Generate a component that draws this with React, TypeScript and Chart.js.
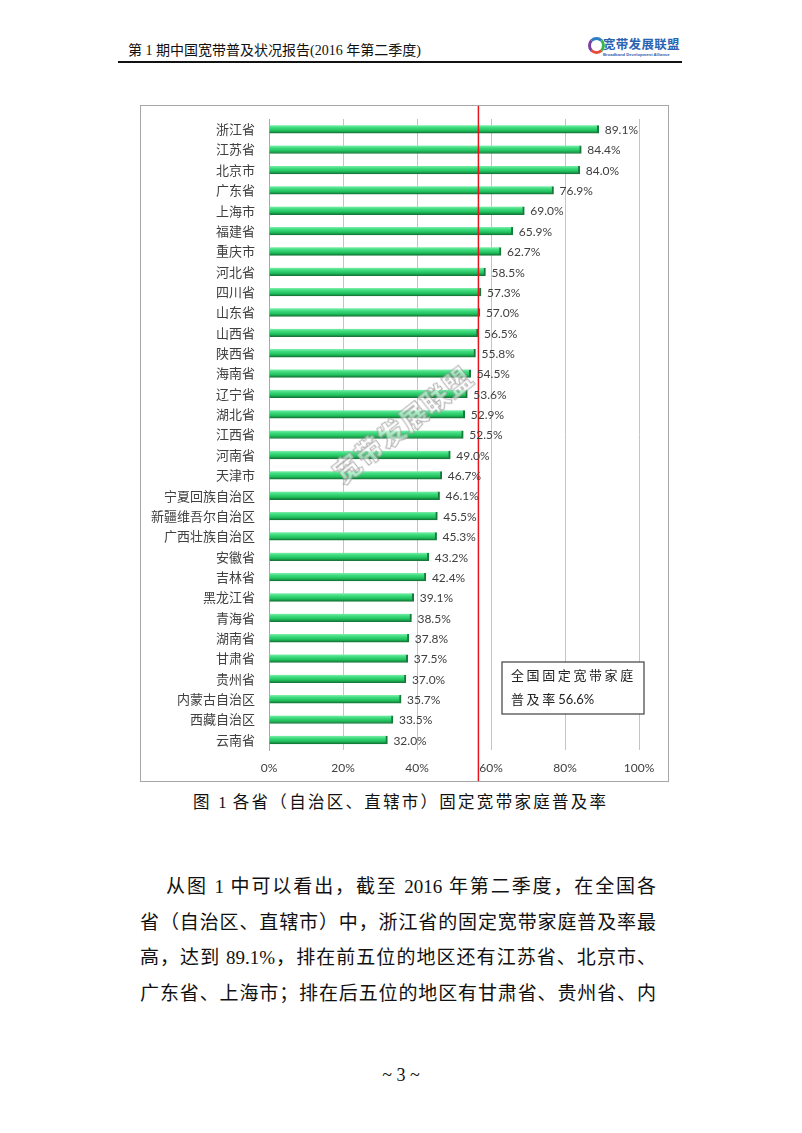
import React, { useEffect, useRef } from "react";
import { Chart, registerables } from "chart.js";

Chart.register(...registerables);

const provinces: string[] = [
  "浙江省", "江苏省", "北京市", "广东省", "上海市", "福建省", "重庆市", "河北省",
  "四川省", "山东省", "山西省", "陕西省", "海南省", "辽宁省", "湖北省", "江西省",
  "河南省", "天津市", "宁夏回族自治区", "新疆维吾尔自治区", "广西壮族自治区", "安徽省",
  "吉林省", "黑龙江省", "青海省", "湖南省", "甘肃省", "贵州省", "内蒙古自治区",
  "西藏自治区", "云南省",
];
const penetration: number[] = [
  89.1, 84.4, 84.0, 76.9, 69.0, 65.9, 62.7, 58.5, 57.3, 57.0, 56.5, 55.8, 54.5, 53.6,
  52.9, 52.5, 49.0, 46.7, 46.1, 45.5, 45.3, 43.2, 42.4, 39.1, 38.5, 37.8, 37.5, 37.0,
  35.7, 33.5, 32.0,
];
const nationalRate = 56.6;
const xTicks: number[] = [0, 20, 40, 60, 80, 100];
const boxLine1 = "全国固定宽带家庭";
const boxLine2a = "普及率";
const boxLine2b = " 56.6%";

const headerText = "第 1 期中国宽带普及状况报告(2016 年第二季度)";
const captionText = "图 1 各省（自治区、直辖市）固定宽带家庭普及率";
const bodyLines: string[] = [
  "从图 1 中可以看出，截至 2016 年第二季度，在全国各",
  "省（自治区、直辖市）中，浙江省的固定宽带家庭普及率最",
  "高，达到 89.1%，排在前五位的地区还有江苏省、北京市、",
  "广东省、上海市；排在后五位的地区有甘肃省、贵州省、内",
];

const NUM_FONT = "Lato, 'Noto Sans CJK SC', sans-serif";
const CJK_FONT = "'Noto Sans CJK SC', sans-serif";
const SERIF = "'Liberation Serif', 'Noto Sans CJK SC', serif";

const refLinePlugin = {
  id: "refLine",
  afterDatasetsDraw(chart: any) {
    const { ctx, scales } = chart;
    const xs = scales.x;
    const x = xs.getPixelForValue(nationalRate);
    ctx.save();
    ctx.strokeStyle = "#e8141b";
    ctx.lineWidth = 1.5;
    ctx.beginPath();
    ctx.moveTo(x, 0);
    ctx.lineTo(x, xs.bottom + 12);
    ctx.stroke();
    ctx.restore();
  },
};

const valueLabelPlugin = {
  id: "valueLabels",
  afterDatasetsDraw(chart: any) {
    const { ctx } = chart;
    const meta = chart.getDatasetMeta(0);
    ctx.save();
    ctx.font = "12px " + NUM_FONT;
    ctx.fillStyle = "#404040";
    ctx.textBaseline = "middle";
    ctx.textAlign = "left";
    meta.data.forEach((el: any, i: number) => {
      ctx.fillText(penetration[i].toFixed(1) + "%", el.x + 6, el.y + 1);
    });
    ctx.restore();
  },
};

const boxPlugin = {
  id: "annotBox",
  afterDraw(chart: any) {
    const { ctx, chartArea } = chart;
    const left = chartArea.right - 137;
    const top = chartArea.bottom - 88;
    const w = 142;
    const h = 52;
    ctx.save();
    ctx.fillStyle = "#ffffff";
    ctx.fillRect(left, top, w, h);
    ctx.strokeStyle = "#404040";
    ctx.lineWidth = 1.2;
    ctx.strokeRect(left, top, w, h);
    ctx.fillStyle = "#222";
    ctx.textBaseline = "middle";
    ctx.textAlign = "left";
    ctx.font = "13px " + CJK_FONT;
    const step = 15.6;
    for (let i = 0; i < boxLine1.length; i++) {
      ctx.fillText(boxLine1[i], left + 9 + i * step, top + 13);
    }
    for (let i = 0; i < boxLine2a.length; i++) {
      ctx.fillText(boxLine2a[i], left + 9 + i * step, top + 37);
    }
    ctx.font = "13px " + NUM_FONT;
    ctx.fillText(boxLine2b, left + 9 + boxLine2a.length * step - 3, top + 38);
    ctx.restore();
  },
};

function barGradient(context: any) {
  const chart = context.chart;
  if (!chart.chartArea || !chart.scales.y) return "#27c763";
  const y = chart.scales.y.getPixelForValue(context.dataIndex);
  const g = chart.ctx.createLinearGradient(0, y - 4, 0, y + 4);
  g.addColorStop(0, "#7fefab");
  g.addColorStop(0.3, "#3fdc7f");
  g.addColorStop(0.65, "#22c25f");
  g.addColorStop(1, "#117a37");
  return g;
}

function BarChart() {
  const ref = useRef<HTMLCanvasElement | null>(null);
  useEffect(() => {
    if (!ref.current) return;
    const chart = new Chart(ref.current, {
      type: "bar",
      data: {
        labels: provinces,
        datasets: [
          {
            data: penetration,
            backgroundColor: barGradient as any,
            borderColor: "#157a3a",
            borderWidth: { top: 0, left: 0, right: 2, bottom: 1 } as any,
            borderSkipped: false as any,
            barThickness: 8,
          },
        ],
      },
      options: {
        indexAxis: "y",
        animation: false,
        responsive: false,
        maintainAspectRatio: false,
        layout: { padding: { top: 13, right: 29, left: 0, bottom: 0 } },
        plugins: {
          legend: { display: false },
          tooltip: { enabled: false },
        },
        scales: {
          x: {
            min: 0,
            max: 100,
            afterBuildTicks(scale: any) {
              scale.ticks = xTicks.map((v) => ({ value: v }));
            },
            afterFit(scale: any) {
              scale.height = 31;
              scale.paddingLeft = 0;
              scale.paddingRight = 0;
            },
            grid: { color: "#c4c4c4", drawTicks: false, lineWidth: 1 },
            border: { display: false },
            ticks: {
              padding: 11,
              color: "#404040",
              font: { family: NUM_FONT, size: 12 },
              callback: (v: any) => v + "%",
            },
          },
          y: {
            afterFit(scale: any) {
              scale.width = 128;
              scale.paddingTop = 0;
              scale.paddingBottom = 0;
            },
            grid: { display: false, drawTicks: false },
            border: { display: true, color: "#a8a8a8", width: 1 },
            ticks: {
              padding: 14,
              color: "#404040",
              font: { family: CJK_FONT, size: 13 },
              autoSkip: false,
            },
          },
        },
      },
      plugins: [refLinePlugin, valueLabelPlugin, boxPlugin],
    } as any);
    return () => chart.destroy();
  }, []);
  return <canvas ref={ref} width={527} height={675} style={{ display: "block", width: 527, height: 675 }} />;
}

export default function App() {
  useEffect(() => {
    document.body.style.margin = "0";
  }, []);
  return (
    <div style={{ position: "relative", width: 802, height: 1133, background: "#fff", overflow: "hidden" }}>
      {/* header */}
      <div style={{ position: "absolute", left: 128, top: 42, fontFamily: SERIF, fontSize: 14, color: "#111", whiteSpace: "nowrap", lineHeight: "18px" }}>
        {headerText}
      </div>
      <div style={{ position: "absolute", left: 588, top: 37, width: 11, height: 11, borderRadius: "50%", border: "3px solid", borderColor: "#2d7fc4 #39b54a #e94b3c #7b3fa0" }} />
      <div style={{ position: "absolute", left: 603, top: 36, fontFamily: CJK_FONT, fontWeight: 700, fontSize: 12.5, color: "#2b63b3", whiteSpace: "nowrap", lineHeight: "15px", letterSpacing: 0.3 }}>
        宽带发展联盟
      </div>
      <div style={{ position: "absolute", left: 603, top: 52, fontFamily: "'Liberation Sans', sans-serif", fontWeight: 700, fontSize: 4.2, color: "#2b63b3", whiteSpace: "nowrap", lineHeight: "5px" }}>
        Broadband Development Alliance
      </div>
      <div style={{ position: "absolute", left: 118, top: 61, width: 564, height: 1.5, background: "#111" }} />

      {/* chart frame */}
      <div style={{ position: "absolute", left: 140, top: 105, width: 529, height: 677, boxSizing: "border-box", border: "1px solid #a6a6a6" }} />
      <div style={{ position: "absolute", left: 141, top: 106 }}>
        <BarChart />
      </div>
      {/* watermark */}
      <div
        style={{
          position: "absolute",
          left: 402,
          top: 424,
          transform: "translate(-50%, -50%) rotate(-38deg)",
          fontFamily: CJK_FONT,
          fontWeight: 900,
          fontSize: 27,
          color: "rgba(255,255,255,0.55)",
          WebkitTextStroke: "1px rgba(150,150,150,0.75)",
          whiteSpace: "nowrap",
          pointerEvents: "none",
          letterSpacing: 1,
        } as any}
      >
        宽带发展联盟
      </div>

      {/* caption */}
      <div style={{ position: "absolute", left: 193, top: 792, width: 413, fontFamily: SERIF, fontSize: 16.5, color: "#111", whiteSpace: "nowrap", lineHeight: "22px", textAlign: "justify", textAlignLast: "justify" } as any}>
        {captionText}
      </div>

      {/* body */}
      {bodyLines.map((line, i) => (
        <div
          key={i}
          style={{
            position: "absolute",
            left: i === 0 ? 166 : 140,
            top: 874 + i * 35.5,
            width: i === 0 ? 490 : 516,
            fontFamily: SERIF,
            fontSize: 19,
            color: "#111",
            whiteSpace: "nowrap",
            lineHeight: "26px",
            textAlign: "justify",
            textAlignLast: "justify",
          } as any}
        >
          {line}
        </div>
      ))}

      {/* page number */}
      <div style={{ position: "absolute", left: 0, width: 802, top: 1063, textAlign: "center", fontFamily: SERIF, fontSize: 18, color: "#111", lineHeight: "24px" }}>
        ~ 3 ~
      </div>
    </div>
  );
}
